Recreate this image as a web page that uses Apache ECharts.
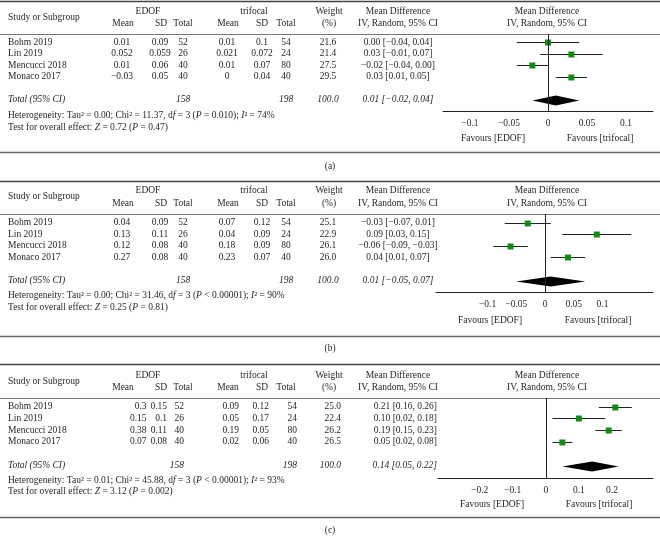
<!DOCTYPE html>
<html><head><meta charset="utf-8">
<script src="https://cdn.jsdelivr.net/npm/echarts@6/dist/echarts.min.js"></script>
<style>html,body{margin:0;padding:0;background:#fff}#c{width:660px;height:536px}</style>
</head><body><div id="c"></div>
<script>
// ---------- data ----------
const panelLabels = ['(a)', '(b)', '(c)'];
const studies = ['Bohm 2019', 'Lin 2019', 'Mencucci 2018', 'Monaco 2017'];
const edofMean = [[0.01, 0.052, 0.01, -0.03], [0.04, 0.13, 0.12, 0.27], [0.3, 0.15, 0.38, 0.07]];
const edofSD = [[0.09, 0.059, 0.06, 0.05], [0.09, 0.11, 0.08, 0.08], [0.15, 0.1, 0.11, 0.08]];
const edofN = [52, 26, 40, 40];
const triMean = [[0.01, 0.021, 0.01, 0], [0.07, 0.04, 0.18, 0.23], [0.09, 0.05, 0.19, 0.02]];
const triSD = [[0.1, 0.072, 0.07, 0.04], [0.12, 0.09, 0.09, 0.07], [0.12, 0.17, 0.05, 0.06]];
const triN = [54, 24, 80, 40];
const edofTotal = 158;
const triTotal = 198;
const weights = [[21.6, 21.4, 27.5, 29.5], [25.1, 22.9, 26.1, 26.0], [25.0, 22.4, 26.2, 26.5]];
const md = [[0.00, 0.03, -0.02, 0.03], [-0.03, 0.09, -0.06, 0.04], [0.21, 0.10, 0.19, 0.05]];
const mdLo = [[-0.04, -0.01, -0.04, 0.01], [-0.07, 0.03, -0.09, 0.01], [0.16, 0.02, 0.15, 0.02]];
const mdHi = [[0.04, 0.07, 0.00, 0.05], [0.01, 0.15, -0.03, 0.07], [0.26, 0.18, 0.23, 0.08]];
const totalMD = [0.01, 0.01, 0.14];
const totalLo = [-0.02, -0.05, 0.05];
const totalHi = [0.04, 0.07, 0.22];
const tau2 = ['0.00', '0.00', '0.01'];
const chi2 = ['11.37', '31.46', '45.88'];
const hetP = ['= 0.010', '< 0.00001', '< 0.00001'];
const i2 = ['74', '90', '93'];
const zVal = ['0.72', '0.25', '3.12'];
const zP = ['0.47', '0.81', '0.002'];
const xTicks = [[-0.1, -0.05, 0, 0.05, 0.1], [-0.1, -0.05, 0, 0.05, 0.1], [-0.2, -0.1, 0, 0.1, 0.2]];

// ---------- layout (pixels) ----------
const L = [
  {top: 1, h1: 11, h2: 23, head: 34, axis: 111, bottom: 152, lab: 166, y0: 42, step: 11.5, left: 443, xmin: -0.1346, xmax: 0.1346, fav: [493, 600], favY: 138, het: 115.5, test: 127.5, align: 'center'},
  {top: 181, h1: 190, h2: 203, head: 214, axis: 292, bottom: 336, lab: 348, y0: 222.5, step: 11.6, left: 436, xmin: -0.1896, xmax: 0.1878, fav: [490, 598], favY: 320, het: 295, test: 307, align: 'center'},
  {top: 364, h1: 375, h2: 387, head: 398, axis: 478, bottom: 517, lab: 530, y0: 406.5, step: 11.8, left: 438, xmin: -0.326, xmax: 0.324, fav: [492, 599], favY: 504, het: 480, test: 491.5, align: 'right'}
];
const RIGHT = 653;
const FONT = '"Liberation Serif", "DejaVu Serif", serif';
const FS = 9.5;
const NFS = 9.5;
const INK = '#231f20';
// column centres (centered panels) and right edges (right-aligned panel)
const colC = {em: 122, es: 160, en: 183, tm: 227, ts: 262, tn: 286, w: 328, md: 398};
const colR = {em: 146.5, es: 167, en: 184, tm: 239, ts: 269, tn: 297, w: 341, md: 437};

const minus = s => String(s).replace(/-/g, '\u2212');
const f2 = v => minus(v.toFixed(2));
const mdStr = (v, lo, hi) => `${f2(v)} [${f2(lo)}, ${f2(hi)}]`;

function txt(text, x, y, opt) {
  opt = opt || {};
  return {
    type: 'text', silent: true,
    style: {
      text: text, x: x, y: y, fill: INK,
      fontFamily: FONT, fontSize: opt.fs || FS, fontStyle: opt.italic ? 'italic' : 'normal',
      align: opt.align || 'left', verticalAlign: 'middle',
      rich: opt.rich
    }
  };
}
function hline(y, x1, x2, w, c) {
  return {type: 'line', silent: true, shape: {x1: x1, y1: y, x2: x2, y2: y}, style: {stroke: c, lineWidth: w}};
}
const richI = {i: {fontStyle: 'italic', fontFamily: FONT, fontSize: FS, fill: INK}};

const graphics = [];
const grids = [], xAxes = [], yAxes = [], series = [];

L.forEach((p, k) => {
  // rules
  graphics.push(hline(p.top + 0.5, 0, 660, 1.6, '#444'));
  graphics.push(hline(p.head + 0.5, 0, 660, 1, '#777'));
  graphics.push(hline(p.bottom + 0.5, 0, 660, 1.6, '#666'));
  // headers
  graphics.push(txt('Study or Subgroup', 8, (p.h1 + p.h2) / 2));
  graphics.push(txt('EDOF', 148, p.h1, {align: 'center'}));
  graphics.push(txt('trifocal', 254, p.h1, {align: 'center'}));
  graphics.push(txt('Mean', 123, p.h2, {align: 'center'}));
  graphics.push(txt('SD', 161, p.h2, {align: 'center'}));
  graphics.push(txt('Total', 183, p.h2, {align: 'center'}));
  graphics.push(txt('Mean', 228, p.h2, {align: 'center'}));
  graphics.push(txt('SD', 262, p.h2, {align: 'center'}));
  graphics.push(txt('Total', 286, p.h2, {align: 'center'}));
  graphics.push(txt('Weight', 329, p.h1, {align: 'center'}));
  graphics.push(txt('(%)', 329, p.h2, {align: 'center'}));
  graphics.push(txt('Mean Difference', 398, p.h1, {align: 'center'}));
  graphics.push(txt('IV, Random, 95% CI', 398, p.h2, {align: 'center'}));
  graphics.push(txt('Mean Difference', 547, p.h1, {align: 'center'}));
  graphics.push(txt('IV, Random, 95% CI', 547, p.h2, {align: 'center'}));

  const C = p.align === 'right' ? colR : colC;
  const al = p.align;
  studies.forEach((s, i) => {
    const y = p.y0 + i * p.step;
    graphics.push(txt(s, 8, y));
    graphics.push(txt(minus(edofMean[k][i]), C.em, y, {align: al, fs: NFS}));
    graphics.push(txt(minus(edofSD[k][i]), C.es, y, {align: al, fs: NFS}));
    graphics.push(txt(String(edofN[i]), C.en, y, {align: al, fs: NFS}));
    graphics.push(txt(minus(triMean[k][i]), C.tm, y, {align: al, fs: NFS}));
    graphics.push(txt(minus(triSD[k][i]), C.ts, y, {align: al, fs: NFS}));
    graphics.push(txt(String(triN[i]), C.tn, y, {align: al, fs: NFS}));
    graphics.push(txt(weights[k][i].toFixed(1), C.w, y, {align: al, fs: NFS}));
    graphics.push(txt(mdStr(md[k][i], mdLo[k][i], mdHi[k][i]), C.md, y, {align: al}));
  });
  const yt = p.y0 + 5 * p.step;
  graphics.push(txt('Total (95% CI)', 8, yt, {italic: true}));
  graphics.push(txt(String(edofTotal), C.en, yt, {italic: true, align: al, fs: NFS}));
  graphics.push(txt(String(triTotal), C.tn, yt, {italic: true, align: al, fs: NFS}));
  graphics.push(txt('100.0', C.w, yt, {italic: true, align: al, fs: NFS}));
  graphics.push(txt(mdStr(totalMD[k], totalLo[k], totalHi[k]), C.md, yt, {italic: true, align: al}));

  graphics.push(txt(`Heterogeneity: Tau\u00b2 = ${tau2[k]}; Chi\u00b2 = ${chi2[k]}, d{i|f} = 3 ({i|P} ${hetP[k]}); {i|I}\u00b2 = ${i2[k]}%`, 8, p.het, {rich: richI}));
  graphics.push(txt(`Test for overall effect: {i|Z} = ${zVal[k]} ({i|P} = ${zP[k]})`, 8, p.test, {rich: richI}));

  graphics.push(txt('Favours [EDOF]', p.fav[0], p.favY, {align: 'center'}));
  graphics.push(txt('Favours [trifocal]', p.fav[1], p.favY, {align: 'center'}));
  graphics.push(txt(panelLabels[k], 330, p.lab, {align: 'center'}));

  // plot
  grids.push({left: p.left, width: RIGHT - p.left, top: p.head, height: p.axis - p.head, containLabel: false});
  xAxes.push({
    type: 'value', gridIndex: k, min: p.xmin, max: p.xmax,
    axisLine: {show: true, onZero: false, lineStyle: {color: '#222', width: 1}},
    axisTick: {show: false}, splitLine: {show: false},
    axisLabel: {
      customValues: xTicks[k], margin: 7, color: INK, fontFamily: FONT, fontSize: FS,
      formatter: v => minus(String(Math.round(v * 1000) / 1000))
    }
  });
  yAxes.push({
    type: 'value', gridIndex: k, inverse: true, show: false,
    min: (p.head - p.y0) / p.step, max: (p.axis - p.y0) / p.step
  });
  const d = studies.map((s, i) => [md[k][i], mdLo[k][i], mdHi[k][i], i, 0]);
  d.push([totalMD[k], totalLo[k], totalHi[k], 5, 1]);
  series.push({
    type: 'custom', xAxisIndex: k, yAxisIndex: k, silent: true,
    data: d,
    renderItem: function (params, api) {
      const v = api.value(0), lo = api.value(1), hi = api.value(2), r = api.value(3), kind = api.value(4);
      const pc = api.coord([v, r]);
      const y = Math.round(pc[1]) + 0.5;
      const pl = api.coord([lo, r])[0], ph = api.coord([hi, r])[0];
      if (kind === 1) {
        return {type: 'polygon', shape: {points: [[pl, y], [pc[0], y - 5], [ph, y], [pc[0], y + 5]]}, style: {fill: '#000'}};
      }
      return {type: 'group', children: [
        {type: 'line', shape: {x1: pl, y1: y, x2: ph, y2: y}, style: {stroke: '#222', lineWidth: 1}},
        {type: 'rect', shape: {x: pc[0] - 3, y: y - 3, width: 6, height: 6}, style: {fill: '#138a13'}}
      ]};
    },
    markLine: {
      silent: true, symbol: 'none', label: {show: false},
      lineStyle: {color: '#222', width: 1, type: 'solid'},
      data: [{xAxis: 0}]
    },
    z: 3
  });
});

const chart = echarts.init(document.getElementById('c'), null, {renderer: 'canvas'});
chart.setOption({
  animation: false,
  backgroundColor: '#fff',
  grid: grids, xAxis: xAxes, yAxis: yAxes, series: series,
  graphic: graphics
});
</script></body></html>
